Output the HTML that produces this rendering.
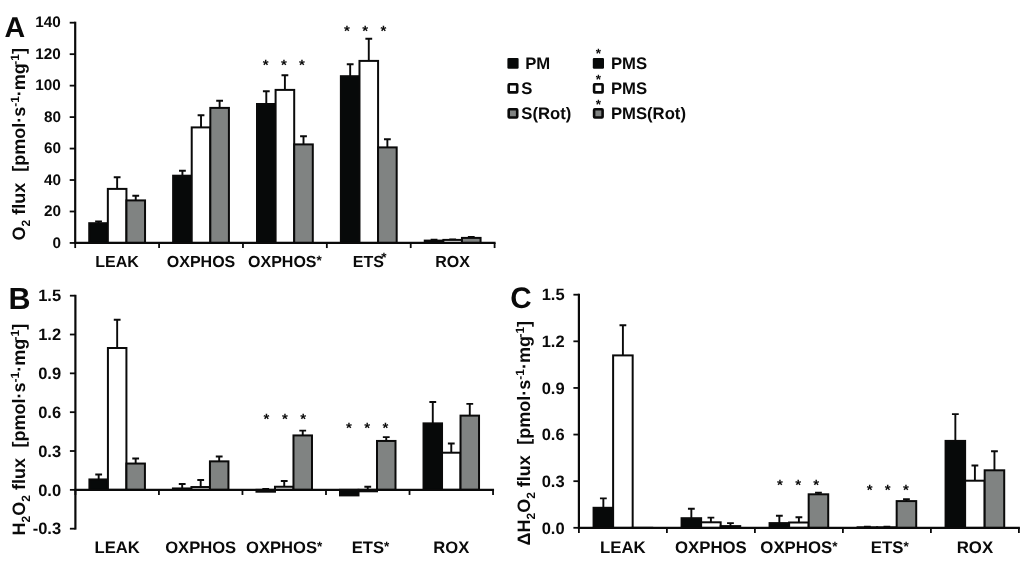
<!DOCTYPE html>
<html><head><meta charset="utf-8"><title>Figure</title>
<style>html,body{margin:0;padding:0;background:#fff}svg{display:block}</style></head>
<body>
<svg width="1024" height="562" viewBox="0 0 1024 562" text-rendering="geometricPrecision">
<rect width="1024" height="562" fill="#ffffff"/>
<path d="M98.54 223.20V221.50M95.14 221.50H101.94" stroke="#0a0a0a" stroke-width="1.9" fill="none"/>
<rect x="89.24" y="223.20" width="18.60" height="19.75" fill="#070909" stroke="#0a0a0a" stroke-width="2.0"/>
<path d="M117.14 188.90V177.20M113.74 177.20H120.54" stroke="#0a0a0a" stroke-width="1.9" fill="none"/>
<rect x="107.84" y="188.90" width="18.60" height="54.05" fill="#ffffff" stroke="#0a0a0a" stroke-width="2.0"/>
<path d="M135.74 200.40V195.70M132.34 195.70H139.14" stroke="#0a0a0a" stroke-width="1.9" fill="none"/>
<rect x="126.44" y="200.40" width="18.60" height="42.55" fill="#808382" stroke="#0a0a0a" stroke-width="2.0"/>
<path d="M182.42 175.70V170.70M179.02 170.70H185.82" stroke="#0a0a0a" stroke-width="1.9" fill="none"/>
<rect x="173.12" y="175.70" width="18.60" height="67.25" fill="#070909" stroke="#0a0a0a" stroke-width="2.0"/>
<path d="M201.02 127.40V115.20M197.62 115.20H204.42" stroke="#0a0a0a" stroke-width="1.9" fill="none"/>
<rect x="191.72" y="127.40" width="18.60" height="115.55" fill="#ffffff" stroke="#0a0a0a" stroke-width="2.0"/>
<path d="M219.62 107.90V100.70M216.22 100.70H223.02" stroke="#0a0a0a" stroke-width="1.9" fill="none"/>
<rect x="210.32" y="107.90" width="18.60" height="135.05" fill="#808382" stroke="#0a0a0a" stroke-width="2.0"/>
<path d="M266.30 104.00V91.20M262.90 91.20H269.70" stroke="#0a0a0a" stroke-width="1.9" fill="none"/>
<rect x="257.00" y="104.00" width="18.60" height="138.95" fill="#070909" stroke="#0a0a0a" stroke-width="2.0"/>
<path d="M284.90 89.90V75.30M281.50 75.30H288.30" stroke="#0a0a0a" stroke-width="1.9" fill="none"/>
<rect x="275.60" y="89.90" width="18.60" height="153.05" fill="#ffffff" stroke="#0a0a0a" stroke-width="2.0"/>
<path d="M303.50 144.40V136.20M300.10 136.20H306.90" stroke="#0a0a0a" stroke-width="1.9" fill="none"/>
<rect x="294.20" y="144.40" width="18.60" height="98.55" fill="#808382" stroke="#0a0a0a" stroke-width="2.0"/>
<path d="M350.18 76.20V64.20M346.78 64.20H353.58" stroke="#0a0a0a" stroke-width="1.9" fill="none"/>
<rect x="340.88" y="76.20" width="18.60" height="166.75" fill="#070909" stroke="#0a0a0a" stroke-width="2.0"/>
<path d="M368.78 60.90V38.70M365.38 38.70H372.18" stroke="#0a0a0a" stroke-width="1.9" fill="none"/>
<rect x="359.48" y="60.90" width="18.60" height="182.05" fill="#ffffff" stroke="#0a0a0a" stroke-width="2.0"/>
<path d="M387.38 147.40V139.20M383.98 139.20H390.78" stroke="#0a0a0a" stroke-width="1.9" fill="none"/>
<rect x="378.08" y="147.40" width="18.60" height="95.55" fill="#808382" stroke="#0a0a0a" stroke-width="2.0"/>
<path d="M434.06 240.60V239.80M430.66 239.80H437.46" stroke="#0a0a0a" stroke-width="1.9" fill="none"/>
<rect x="424.76" y="240.60" width="18.60" height="2.35" fill="#070909" stroke="#0a0a0a" stroke-width="2.0"/>
<path d="M452.66 239.90V239.40M449.26 239.40H456.06" stroke="#0a0a0a" stroke-width="1.9" fill="none"/>
<rect x="443.36" y="239.90" width="18.60" height="3.05" fill="#ffffff" stroke="#0a0a0a" stroke-width="2.0"/>
<path d="M471.26 237.90V237.00M467.86 237.00H474.66" stroke="#0a0a0a" stroke-width="1.9" fill="none"/>
<rect x="461.96" y="237.90" width="18.60" height="5.05" fill="#808382" stroke="#0a0a0a" stroke-width="2.0"/>
<path d="M75.20 21.70V243.85" stroke="#0a0a0a" stroke-width="2.2" fill="none"/>
<path d="M74.20 242.95H495.60" stroke="#0a0a0a" stroke-width="2.2" fill="none"/>
<path d="M69.70 242.95H75.20" stroke="#0a0a0a" stroke-width="1.8" fill="none"/>
<text x="60.90" y="247.65" font-size="15.3" text-anchor="end" font-family="Liberation Sans, Arial, Helvetica, sans-serif" font-weight="bold" fill="#0a0a0a" >0</text>
<path d="M69.70 211.49H75.20" stroke="#0a0a0a" stroke-width="1.8" fill="none"/>
<text x="60.90" y="216.19" font-size="15.3" text-anchor="end" font-family="Liberation Sans, Arial, Helvetica, sans-serif" font-weight="bold" fill="#0a0a0a" >20</text>
<path d="M69.70 180.02H75.20" stroke="#0a0a0a" stroke-width="1.8" fill="none"/>
<text x="60.90" y="184.72" font-size="15.3" text-anchor="end" font-family="Liberation Sans, Arial, Helvetica, sans-serif" font-weight="bold" fill="#0a0a0a" >40</text>
<path d="M69.70 148.56H75.20" stroke="#0a0a0a" stroke-width="1.8" fill="none"/>
<text x="60.90" y="153.26" font-size="15.3" text-anchor="end" font-family="Liberation Sans, Arial, Helvetica, sans-serif" font-weight="bold" fill="#0a0a0a" >60</text>
<path d="M69.70 117.09H75.20" stroke="#0a0a0a" stroke-width="1.8" fill="none"/>
<text x="60.90" y="121.79" font-size="15.3" text-anchor="end" font-family="Liberation Sans, Arial, Helvetica, sans-serif" font-weight="bold" fill="#0a0a0a" >80</text>
<path d="M69.70 85.63H75.20" stroke="#0a0a0a" stroke-width="1.8" fill="none"/>
<text x="60.90" y="90.33" font-size="15.3" text-anchor="end" font-family="Liberation Sans, Arial, Helvetica, sans-serif" font-weight="bold" fill="#0a0a0a" >100</text>
<path d="M69.70 54.17H75.20" stroke="#0a0a0a" stroke-width="1.8" fill="none"/>
<text x="60.90" y="58.87" font-size="15.3" text-anchor="end" font-family="Liberation Sans, Arial, Helvetica, sans-serif" font-weight="bold" fill="#0a0a0a" >120</text>
<path d="M69.70 22.70H75.20" stroke="#0a0a0a" stroke-width="1.8" fill="none"/>
<text x="60.90" y="27.40" font-size="15.3" text-anchor="end" font-family="Liberation Sans, Arial, Helvetica, sans-serif" font-weight="bold" fill="#0a0a0a" >140</text>
<path d="M75.20 242.95V248.05" stroke="#0a0a0a" stroke-width="1.8" fill="none"/>
<path d="M159.08 242.95V248.05" stroke="#0a0a0a" stroke-width="1.8" fill="none"/>
<path d="M242.96 242.95V248.05" stroke="#0a0a0a" stroke-width="1.8" fill="none"/>
<path d="M326.84 242.95V248.05" stroke="#0a0a0a" stroke-width="1.8" fill="none"/>
<path d="M410.72 242.95V248.05" stroke="#0a0a0a" stroke-width="1.8" fill="none"/>
<path d="M494.60 242.95V248.05" stroke="#0a0a0a" stroke-width="1.8" fill="none"/>
<text x="117.14" y="267.00" font-size="16" text-anchor="middle" font-family="Liberation Sans, Arial, Helvetica, sans-serif" font-weight="bold" fill="#0a0a0a" >LEAK</text>
<text x="201.02" y="267.00" font-size="16" text-anchor="middle" font-family="Liberation Sans, Arial, Helvetica, sans-serif" font-weight="bold" fill="#0a0a0a" >OXPHOS</text>
<text x="284.90" y="267.00" font-size="16" text-anchor="middle" font-family="Liberation Sans, Arial, Helvetica, sans-serif" font-weight="bold" fill="#0a0a0a" >OXPHOS<tspan font-size="13.5" dy="-2.4">*</tspan></text>
<text x="368.78" y="267.00" font-size="16" text-anchor="middle" font-family="Liberation Sans, Arial, Helvetica, sans-serif" font-weight="bold" fill="#0a0a0a" ><tspan dx="0.9">ETS</tspan><tspan font-size="13.5" dy="-4.6" dx="-2.5">*</tspan></text>
<text x="452.66" y="267.00" font-size="16" text-anchor="middle" font-family="Liberation Sans, Arial, Helvetica, sans-serif" font-weight="bold" fill="#0a0a0a" >ROX</text>
<text x="265.70" y="69.90" font-size="15" text-anchor="middle" font-family="Liberation Sans, Arial, sans-serif" font-weight="bold" fill="#0a0a0a">*</text>
<text x="283.80" y="69.90" font-size="15" text-anchor="middle" font-family="Liberation Sans, Arial, sans-serif" font-weight="bold" fill="#0a0a0a">*</text>
<text x="302.00" y="69.90" font-size="15" text-anchor="middle" font-family="Liberation Sans, Arial, sans-serif" font-weight="bold" fill="#0a0a0a">*</text>
<text x="346.80" y="35.50" font-size="15" text-anchor="middle" font-family="Liberation Sans, Arial, sans-serif" font-weight="bold" fill="#0a0a0a">*</text>
<text x="365.20" y="35.50" font-size="15" text-anchor="middle" font-family="Liberation Sans, Arial, sans-serif" font-weight="bold" fill="#0a0a0a">*</text>
<text x="383.50" y="35.50" font-size="15" text-anchor="middle" font-family="Liberation Sans, Arial, sans-serif" font-weight="bold" fill="#0a0a0a">*</text>
<text transform="translate(25.00 144.30) rotate(-90)" font-size="18" text-anchor="middle" font-family="Liberation Sans, Arial, Helvetica, sans-serif" font-weight="bold" fill="#0a0a0a" xml:space="preserve">O<tspan font-size="12" dy="5.2">2</tspan><tspan dy="-5.2"> flux </tspan> <tspan dx="1.0">[</tspan>pmol·s<tspan font-size="12" dy="-6">-1</tspan><tspan dy="6">·mg</tspan><tspan font-size="12" dy="-6" dx="-1.6">-1</tspan><tspan dy="6">]</tspan></text>
<text x="4.60" y="37.20" font-size="28.6" text-anchor="start" font-family="Liberation Sans, Arial, Helvetica, sans-serif" font-weight="bold" fill="#0a0a0a" >A</text>
<path d="M98.67 479.45V474.55M95.27 474.55H102.07" stroke="#0a0a0a" stroke-width="1.9" fill="none"/>
<rect x="89.42" y="479.45" width="18.50" height="10.40" fill="#070909" stroke="#0a0a0a" stroke-width="2.0"/>
<path d="M117.17 348.00V319.70M113.77 319.70H120.57" stroke="#0a0a0a" stroke-width="1.9" fill="none"/>
<rect x="107.92" y="348.00" width="18.50" height="141.85" fill="#ffffff" stroke="#0a0a0a" stroke-width="2.0"/>
<path d="M135.67 463.55V458.54M132.27 458.54H139.07" stroke="#0a0a0a" stroke-width="1.9" fill="none"/>
<rect x="126.42" y="463.55" width="18.50" height="26.30" fill="#808382" stroke="#0a0a0a" stroke-width="2.0"/>
<path d="M182.19 488.45V484.05M178.79 484.05H185.59" stroke="#0a0a0a" stroke-width="1.9" fill="none"/>
<rect x="172.94" y="488.45" width="18.50" height="1.40" fill="#070909" stroke="#0a0a0a" stroke-width="2.0"/>
<path d="M200.69 487.05V480.05M197.29 480.05H204.09" stroke="#0a0a0a" stroke-width="1.9" fill="none"/>
<rect x="191.44" y="487.05" width="18.50" height="2.80" fill="#ffffff" stroke="#0a0a0a" stroke-width="2.0"/>
<path d="M219.19 461.35V456.53M215.79 456.53H222.59" stroke="#0a0a0a" stroke-width="1.9" fill="none"/>
<rect x="209.94" y="461.35" width="18.50" height="28.50" fill="#808382" stroke="#0a0a0a" stroke-width="2.0"/>
<path d="M265.73 491.70V488.95M262.33 488.95H269.12" stroke="#0a0a0a" stroke-width="1.9" fill="none"/>
<rect x="256.48" y="489.85" width="18.50" height="1.85" fill="#070909" stroke="#0a0a0a" stroke-width="2.0"/>
<path d="M284.23 486.75V480.95M280.83 480.95H287.62" stroke="#0a0a0a" stroke-width="1.9" fill="none"/>
<rect x="274.98" y="486.75" width="18.50" height="3.10" fill="#ffffff" stroke="#0a0a0a" stroke-width="2.0"/>
<path d="M302.73 435.43V430.60M299.33 430.60H306.12" stroke="#0a0a0a" stroke-width="1.9" fill="none"/>
<rect x="293.48" y="435.43" width="18.50" height="54.42" fill="#808382" stroke="#0a0a0a" stroke-width="2.0"/>
<rect x="340.00" y="489.85" width="18.50" height="5.55" fill="#070909" stroke="#0a0a0a" stroke-width="2.0"/>
<path d="M367.75 491.30V486.75M364.36 486.75H371.15" stroke="#0a0a0a" stroke-width="1.9" fill="none"/>
<rect x="358.50" y="489.85" width="18.50" height="1.45" fill="#ffffff" stroke="#0a0a0a" stroke-width="2.0"/>
<path d="M386.25 440.95V437.14M382.86 437.14H389.65" stroke="#0a0a0a" stroke-width="1.9" fill="none"/>
<rect x="377.00" y="440.95" width="18.50" height="48.90" fill="#808382" stroke="#0a0a0a" stroke-width="2.0"/>
<path d="M432.78 423.37V401.96M429.38 401.96H436.18" stroke="#0a0a0a" stroke-width="1.9" fill="none"/>
<rect x="423.53" y="423.37" width="18.50" height="66.48" fill="#070909" stroke="#0a0a0a" stroke-width="2.0"/>
<path d="M451.28 452.71V443.57M447.88 443.57H454.68" stroke="#0a0a0a" stroke-width="1.9" fill="none"/>
<rect x="442.03" y="452.71" width="18.50" height="37.14" fill="#ffffff" stroke="#0a0a0a" stroke-width="2.0"/>
<path d="M469.78 415.63V403.87M466.38 403.87H473.18" stroke="#0a0a0a" stroke-width="1.9" fill="none"/>
<rect x="460.53" y="415.63" width="18.50" height="74.22" fill="#808382" stroke="#0a0a0a" stroke-width="2.0"/>
<path d="M75.40 294.80V529.60" stroke="#0a0a0a" stroke-width="2.2" fill="none"/>
<path d="M74.40 489.85H494.05" stroke="#0a0a0a" stroke-width="2.2" fill="none"/>
<path d="M69.90 528.69H75.40" stroke="#0a0a0a" stroke-width="1.8" fill="none"/>
<text x="61.10" y="534.39" font-size="16.5" text-anchor="end" font-family="Liberation Sans, Arial, Helvetica, sans-serif" font-weight="bold" fill="#0a0a0a" >-0.3</text>
<path d="M69.90 489.85H75.40" stroke="#0a0a0a" stroke-width="1.8" fill="none"/>
<text x="61.10" y="495.55" font-size="16.5" text-anchor="end" font-family="Liberation Sans, Arial, Helvetica, sans-serif" font-weight="bold" fill="#0a0a0a" >0.0</text>
<path d="M69.90 451.02H75.40" stroke="#0a0a0a" stroke-width="1.8" fill="none"/>
<text x="61.10" y="456.72" font-size="16.5" text-anchor="end" font-family="Liberation Sans, Arial, Helvetica, sans-serif" font-weight="bold" fill="#0a0a0a" >0.3</text>
<path d="M69.90 412.18H75.40" stroke="#0a0a0a" stroke-width="1.8" fill="none"/>
<text x="61.10" y="417.88" font-size="16.5" text-anchor="end" font-family="Liberation Sans, Arial, Helvetica, sans-serif" font-weight="bold" fill="#0a0a0a" >0.6</text>
<path d="M69.90 373.35H75.40" stroke="#0a0a0a" stroke-width="1.8" fill="none"/>
<text x="61.10" y="379.05" font-size="16.5" text-anchor="end" font-family="Liberation Sans, Arial, Helvetica, sans-serif" font-weight="bold" fill="#0a0a0a" >0.9</text>
<path d="M69.90 334.51H75.40" stroke="#0a0a0a" stroke-width="1.8" fill="none"/>
<text x="61.10" y="340.21" font-size="16.5" text-anchor="end" font-family="Liberation Sans, Arial, Helvetica, sans-serif" font-weight="bold" fill="#0a0a0a" >1.2</text>
<path d="M69.90 295.68H75.40" stroke="#0a0a0a" stroke-width="1.8" fill="none"/>
<text x="61.10" y="301.38" font-size="16.5" text-anchor="end" font-family="Liberation Sans, Arial, Helvetica, sans-serif" font-weight="bold" fill="#0a0a0a" >1.5</text>
<path d="M75.40 489.85V494.95" stroke="#0a0a0a" stroke-width="1.8" fill="none"/>
<path d="M158.93 489.85V494.95" stroke="#0a0a0a" stroke-width="1.8" fill="none"/>
<path d="M242.46 489.85V494.95" stroke="#0a0a0a" stroke-width="1.8" fill="none"/>
<path d="M325.99 489.85V494.95" stroke="#0a0a0a" stroke-width="1.8" fill="none"/>
<path d="M409.52 489.85V494.95" stroke="#0a0a0a" stroke-width="1.8" fill="none"/>
<path d="M493.05 489.85V494.95" stroke="#0a0a0a" stroke-width="1.8" fill="none"/>
<text x="117.17" y="553.30" font-size="16.6" text-anchor="middle" font-family="Liberation Sans, Arial, Helvetica, sans-serif" font-weight="bold" fill="#0a0a0a" >LEAK</text>
<text x="200.69" y="553.30" font-size="16.6" text-anchor="middle" font-family="Liberation Sans, Arial, Helvetica, sans-serif" font-weight="bold" fill="#0a0a0a" >OXPHOS</text>
<text x="284.23" y="553.30" font-size="16.6" text-anchor="middle" font-family="Liberation Sans, Arial, Helvetica, sans-serif" font-weight="bold" fill="#0a0a0a" >OXPHOS<tspan font-size="13.5" dy="-2.4">*</tspan></text>
<text x="367.75" y="553.30" font-size="16.6" text-anchor="middle" font-family="Liberation Sans, Arial, Helvetica, sans-serif" font-weight="bold" fill="#0a0a0a" ><tspan dx="2.8">ETS</tspan><tspan font-size="13.5" dy="-2.4">*</tspan></text>
<text x="451.28" y="553.30" font-size="16.6" text-anchor="middle" font-family="Liberation Sans, Arial, Helvetica, sans-serif" font-weight="bold" fill="#0a0a0a" >ROX</text>
<text x="266.50" y="424.05" font-size="15" text-anchor="middle" font-family="Liberation Sans, Arial, sans-serif" font-weight="bold" fill="#0a0a0a">*</text>
<text x="284.80" y="424.05" font-size="15" text-anchor="middle" font-family="Liberation Sans, Arial, sans-serif" font-weight="bold" fill="#0a0a0a">*</text>
<text x="303.20" y="424.05" font-size="15" text-anchor="middle" font-family="Liberation Sans, Arial, sans-serif" font-weight="bold" fill="#0a0a0a">*</text>
<text x="349.00" y="433.20" font-size="15" text-anchor="middle" font-family="Liberation Sans, Arial, sans-serif" font-weight="bold" fill="#0a0a0a">*</text>
<text x="367.20" y="433.20" font-size="15" text-anchor="middle" font-family="Liberation Sans, Arial, sans-serif" font-weight="bold" fill="#0a0a0a">*</text>
<text x="385.40" y="433.20" font-size="15" text-anchor="middle" font-family="Liberation Sans, Arial, sans-serif" font-weight="bold" fill="#0a0a0a">*</text>
<text transform="translate(25.00 429.60) rotate(-90)" font-size="18" text-anchor="middle" font-family="Liberation Sans, Arial, Helvetica, sans-serif" font-weight="bold" fill="#0a0a0a" xml:space="preserve">H<tspan font-size="12" dy="5.2">2</tspan><tspan dy="-5.2">O</tspan><tspan font-size="12" dy="5.2">2</tspan><tspan dy="-5.2"> flux </tspan> <tspan dx="0.5">[</tspan>pmol·s<tspan font-size="12" dy="-6">-1</tspan><tspan dy="6">·mg</tspan><tspan font-size="12" dy="-6" dx="-1.6">-1</tspan><tspan dy="6">]</tspan></text>
<text x="8.60" y="309.10" font-size="30.5" text-anchor="start" font-family="Liberation Sans, Arial, Helvetica, sans-serif" font-weight="bold" fill="#0a0a0a" >B</text>
<path d="M603.35 507.80V498.40M599.95 498.40H606.75" stroke="#0a0a0a" stroke-width="1.9" fill="none"/>
<rect x="593.57" y="507.80" width="19.55" height="20.10" fill="#070909" stroke="#0a0a0a" stroke-width="2.0"/>
<path d="M622.90 355.40V325.30M619.50 325.30H626.30" stroke="#0a0a0a" stroke-width="1.9" fill="none"/>
<rect x="613.12" y="355.40" width="19.55" height="172.50" fill="#ffffff" stroke="#0a0a0a" stroke-width="2.0"/>
<rect x="632.67" y="527.80" width="19.55" height="0.10" fill="#808382" stroke="#0a0a0a" stroke-width="2.0"/>
<path d="M691.35 518.20V508.80M687.95 508.80H694.75" stroke="#0a0a0a" stroke-width="1.9" fill="none"/>
<rect x="681.57" y="518.20" width="19.55" height="9.70" fill="#070909" stroke="#0a0a0a" stroke-width="2.0"/>
<path d="M710.90 522.30V517.60M707.50 517.60H714.30" stroke="#0a0a0a" stroke-width="1.9" fill="none"/>
<rect x="701.12" y="522.30" width="19.55" height="5.60" fill="#ffffff" stroke="#0a0a0a" stroke-width="2.0"/>
<path d="M730.45 526.10V523.10M727.05 523.10H733.85" stroke="#0a0a0a" stroke-width="1.9" fill="none"/>
<rect x="720.67" y="526.10" width="19.55" height="1.80" fill="#808382" stroke="#0a0a0a" stroke-width="2.0"/>
<path d="M779.35 523.10V515.70M775.95 515.70H782.75" stroke="#0a0a0a" stroke-width="1.9" fill="none"/>
<rect x="769.57" y="523.10" width="19.55" height="4.80" fill="#070909" stroke="#0a0a0a" stroke-width="2.0"/>
<path d="M798.90 522.50V517.30M795.50 517.30H802.30" stroke="#0a0a0a" stroke-width="1.9" fill="none"/>
<rect x="789.12" y="522.50" width="19.55" height="5.40" fill="#ffffff" stroke="#0a0a0a" stroke-width="2.0"/>
<path d="M818.45 494.30V492.70M815.05 492.70H821.85" stroke="#0a0a0a" stroke-width="1.9" fill="none"/>
<rect x="808.67" y="494.30" width="19.55" height="33.60" fill="#808382" stroke="#0a0a0a" stroke-width="2.0"/>
<path d="M867.35 527.30V526.60M863.95 526.60H870.75" stroke="#0a0a0a" stroke-width="1.9" fill="none"/>
<rect x="857.57" y="527.30" width="19.55" height="0.60" fill="#070909" stroke="#0a0a0a" stroke-width="2.0"/>
<path d="M886.90 527.30V526.60M883.50 526.60H890.30" stroke="#0a0a0a" stroke-width="1.9" fill="none"/>
<rect x="877.12" y="527.30" width="19.55" height="0.60" fill="#ffffff" stroke="#0a0a0a" stroke-width="2.0"/>
<path d="M906.45 501.10V499.20M903.05 499.20H909.85" stroke="#0a0a0a" stroke-width="1.9" fill="none"/>
<rect x="896.67" y="501.10" width="19.55" height="26.80" fill="#808382" stroke="#0a0a0a" stroke-width="2.0"/>
<path d="M955.35 440.90V414.10M951.95 414.10H958.75" stroke="#0a0a0a" stroke-width="1.9" fill="none"/>
<rect x="945.57" y="440.90" width="19.55" height="87.00" fill="#070909" stroke="#0a0a0a" stroke-width="2.0"/>
<path d="M974.90 480.70V465.50M971.50 465.50H978.30" stroke="#0a0a0a" stroke-width="1.9" fill="none"/>
<rect x="965.12" y="480.70" width="19.55" height="47.20" fill="#ffffff" stroke="#0a0a0a" stroke-width="2.0"/>
<path d="M994.45 470.30V451.30M991.05 451.30H997.85" stroke="#0a0a0a" stroke-width="1.9" fill="none"/>
<rect x="984.67" y="470.30" width="19.55" height="57.60" fill="#808382" stroke="#0a0a0a" stroke-width="2.0"/>
<path d="M578.90 293.70V528.80" stroke="#0a0a0a" stroke-width="2.2" fill="none"/>
<path d="M577.90 527.90H1019.90" stroke="#0a0a0a" stroke-width="2.2" fill="none"/>
<path d="M573.40 527.80H578.90" stroke="#0a0a0a" stroke-width="1.8" fill="none"/>
<text x="564.60" y="533.50" font-size="16.5" text-anchor="end" font-family="Liberation Sans, Arial, Helvetica, sans-serif" font-weight="bold" fill="#0a0a0a" >0.0</text>
<path d="M573.40 481.18H578.90" stroke="#0a0a0a" stroke-width="1.8" fill="none"/>
<text x="564.60" y="486.88" font-size="16.5" text-anchor="end" font-family="Liberation Sans, Arial, Helvetica, sans-serif" font-weight="bold" fill="#0a0a0a" >0.3</text>
<path d="M573.40 434.56H578.90" stroke="#0a0a0a" stroke-width="1.8" fill="none"/>
<text x="564.60" y="440.26" font-size="16.5" text-anchor="end" font-family="Liberation Sans, Arial, Helvetica, sans-serif" font-weight="bold" fill="#0a0a0a" >0.6</text>
<path d="M573.40 387.94H578.90" stroke="#0a0a0a" stroke-width="1.8" fill="none"/>
<text x="564.60" y="393.64" font-size="16.5" text-anchor="end" font-family="Liberation Sans, Arial, Helvetica, sans-serif" font-weight="bold" fill="#0a0a0a" >0.9</text>
<path d="M573.40 341.32H578.90" stroke="#0a0a0a" stroke-width="1.8" fill="none"/>
<text x="564.60" y="347.02" font-size="16.5" text-anchor="end" font-family="Liberation Sans, Arial, Helvetica, sans-serif" font-weight="bold" fill="#0a0a0a" >1.2</text>
<path d="M573.40 294.70H578.90" stroke="#0a0a0a" stroke-width="1.8" fill="none"/>
<text x="564.60" y="300.40" font-size="16.5" text-anchor="end" font-family="Liberation Sans, Arial, Helvetica, sans-serif" font-weight="bold" fill="#0a0a0a" >1.5</text>
<path d="M578.90 527.90V533.00" stroke="#0a0a0a" stroke-width="1.8" fill="none"/>
<path d="M666.90 527.90V533.00" stroke="#0a0a0a" stroke-width="1.8" fill="none"/>
<path d="M754.90 527.90V533.00" stroke="#0a0a0a" stroke-width="1.8" fill="none"/>
<path d="M842.90 527.90V533.00" stroke="#0a0a0a" stroke-width="1.8" fill="none"/>
<path d="M930.90 527.90V533.00" stroke="#0a0a0a" stroke-width="1.8" fill="none"/>
<path d="M1018.90 527.90V533.00" stroke="#0a0a0a" stroke-width="1.8" fill="none"/>
<text x="622.90" y="553.30" font-size="16.8" text-anchor="middle" font-family="Liberation Sans, Arial, Helvetica, sans-serif" font-weight="bold" fill="#0a0a0a" >LEAK</text>
<text x="710.90" y="553.30" font-size="16.8" text-anchor="middle" font-family="Liberation Sans, Arial, Helvetica, sans-serif" font-weight="bold" fill="#0a0a0a" >OXPHOS</text>
<text x="798.90" y="553.30" font-size="16.8" text-anchor="middle" font-family="Liberation Sans, Arial, Helvetica, sans-serif" font-weight="bold" fill="#0a0a0a" >OXPHOS<tspan font-size="13.5" dy="-2.4">*</tspan></text>
<text x="886.90" y="553.30" font-size="16.8" text-anchor="middle" font-family="Liberation Sans, Arial, Helvetica, sans-serif" font-weight="bold" fill="#0a0a0a" ><tspan dx="2.8">ETS</tspan><tspan font-size="13.5" dy="-2.4">*</tspan></text>
<text x="974.90" y="553.30" font-size="16.8" text-anchor="middle" font-family="Liberation Sans, Arial, Helvetica, sans-serif" font-weight="bold" fill="#0a0a0a" >ROX</text>
<text x="779.90" y="490.45" font-size="15" text-anchor="middle" font-family="Liberation Sans, Arial, sans-serif" font-weight="bold" fill="#0a0a0a">*</text>
<text x="798.10" y="490.45" font-size="15" text-anchor="middle" font-family="Liberation Sans, Arial, sans-serif" font-weight="bold" fill="#0a0a0a">*</text>
<text x="816.20" y="490.45" font-size="15" text-anchor="middle" font-family="Liberation Sans, Arial, sans-serif" font-weight="bold" fill="#0a0a0a">*</text>
<text x="869.60" y="494.85" font-size="15" text-anchor="middle" font-family="Liberation Sans, Arial, sans-serif" font-weight="bold" fill="#0a0a0a">*</text>
<text x="887.70" y="494.85" font-size="15" text-anchor="middle" font-family="Liberation Sans, Arial, sans-serif" font-weight="bold" fill="#0a0a0a">*</text>
<text x="905.90" y="494.85" font-size="15" text-anchor="middle" font-family="Liberation Sans, Arial, sans-serif" font-weight="bold" fill="#0a0a0a">*</text>
<text transform="translate(530.00 433.20) rotate(-90)" font-size="18" text-anchor="middle" font-family="Liberation Sans, Arial, Helvetica, sans-serif" font-weight="bold" fill="#0a0a0a" xml:space="preserve">ΔH<tspan font-size="12" dy="5.2">2</tspan><tspan dy="-5.2">O</tspan><tspan font-size="12" dy="5.2">2</tspan><tspan dy="-5.2"> flux </tspan> <tspan dx="0.5">[</tspan>pmol·s<tspan font-size="12" dy="-6">-1</tspan><tspan dy="6">·mg</tspan><tspan font-size="12" dy="-6" dx="-1.6">-1</tspan><tspan dy="6">]</tspan></text>
<text x="510.30" y="308.20" font-size="29.6" text-anchor="start" font-family="Liberation Sans, Arial, Helvetica, sans-serif" font-weight="bold" fill="#0a0a0a" >C</text>
<rect x="507.4" y="57.9" width="11.2" height="10.8" rx="1.2" fill="#070909"/>
<rect x="592.8" y="57.9" width="11.2" height="10.8" rx="1.2" fill="#070909"/>
<text x="525.20" y="68.90" font-size="16.7" text-anchor="start" font-family="Liberation Sans, Arial, Helvetica, sans-serif" font-weight="bold" fill="#0a0a0a" >PM</text>
<text x="610.90" y="68.90" font-size="16.7" text-anchor="start" font-family="Liberation Sans, Arial, Helvetica, sans-serif" font-weight="bold" fill="#0a0a0a" >PMS</text>
<text x="598.30" y="57.80" font-size="13.5" text-anchor="middle" font-family="Liberation Sans, Arial, sans-serif" font-weight="bold" fill="#0a0a0a">*</text>
<rect x="508.70" y="84.20" width="8.5" height="8.2" rx="0.7" fill="#ffffff" stroke="#0a0a0a" stroke-width="2.6"/>
<rect x="594.10" y="84.20" width="8.5" height="8.2" rx="0.7" fill="#ffffff" stroke="#0a0a0a" stroke-width="2.6"/>
<text x="521.30" y="93.90" font-size="16.7" text-anchor="start" font-family="Liberation Sans, Arial, Helvetica, sans-serif" font-weight="bold" fill="#0a0a0a" >S</text>
<text x="610.90" y="93.90" font-size="16.7" text-anchor="start" font-family="Liberation Sans, Arial, Helvetica, sans-serif" font-weight="bold" fill="#0a0a0a" >PMS</text>
<text x="598.30" y="83.85" font-size="13.5" text-anchor="middle" font-family="Liberation Sans, Arial, sans-serif" font-weight="bold" fill="#0a0a0a">*</text>
<rect x="508.70" y="109.30" width="8.5" height="8.2" rx="0.7" fill="#808382" stroke="#0a0a0a" stroke-width="2.6"/>
<rect x="594.10" y="109.30" width="8.5" height="8.2" rx="0.7" fill="#808382" stroke="#0a0a0a" stroke-width="2.6"/>
<text x="521.30" y="119.00" font-size="16.7" text-anchor="start" font-family="Liberation Sans, Arial, Helvetica, sans-serif" font-weight="bold" fill="#0a0a0a" >S(Rot)</text>
<text x="610.90" y="119.00" font-size="16.7" text-anchor="start" font-family="Liberation Sans, Arial, Helvetica, sans-serif" font-weight="bold" fill="#0a0a0a" >PMS(Rot)</text>
<text x="598.30" y="109.00" font-size="13.5" text-anchor="middle" font-family="Liberation Sans, Arial, sans-serif" font-weight="bold" fill="#0a0a0a">*</text>
</svg>
</body></html>
